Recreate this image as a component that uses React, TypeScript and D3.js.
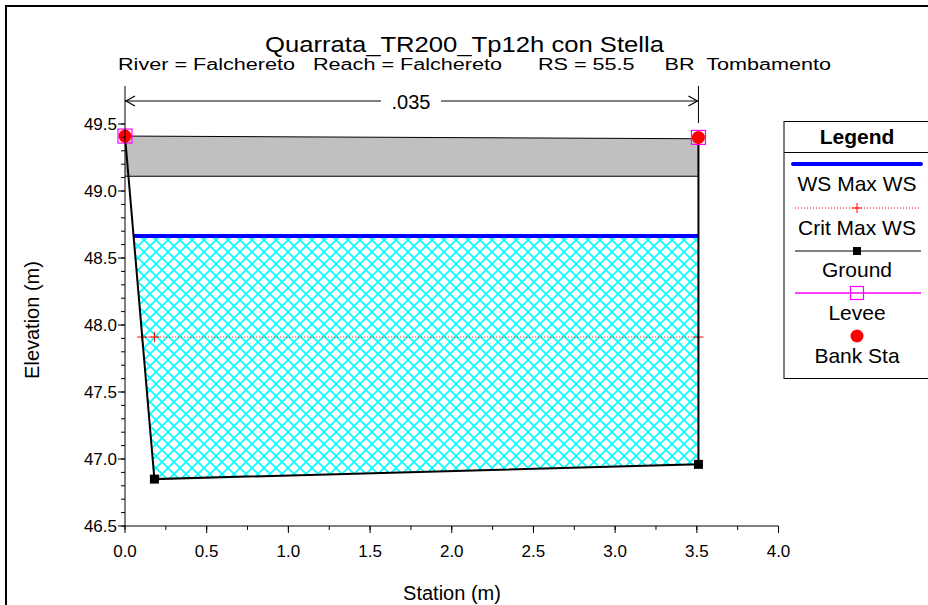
import React from "react";
import * as d3 from "d3";

const groundSta = [0, 0.18, 3.51, 3.51];
const groundElev = [49.41, 46.85, 46.96, 49.4];
const bankSta = [0, 3.51];
const bankElev = [49.41, 49.4];
const deckSta = [0, 3.51];
const deckHigh = [49.41, 49.39];
const deckLow = [49.11, 49.11];
const wsMax = 48.665;
const critMax = 47.91;
const critMarkSta = [0.105, 0.18, 3.51];
const xTicks = [0, 0.5, 1, 1.5, 2, 2.5, 3, 3.5, 4];
const yTicks = [46.5, 47, 47.5, 48, 48.5, 49, 49.5];
const nValue = ".035";
const titleText = "Quarrata_TR200_Tp12h con Stella";
const subtitleText = "River = Falchereto   Reach = Falchereto      RS = 55.5     BR  Tombamento";
const legendItems = ["WS Max WS", "Crit Max WS", "Ground", "Levee", "Bank Sta"];

const FONT = "Liberation Sans, Arial, sans-serif";

function intersect(level: number) {
  const pts: [number, number][] = [];
  for (let i = 0; i < groundSta.length - 1; i++) {
    const x1 = groundSta[i], y1 = groundElev[i], x2 = groundSta[i + 1], y2 = groundElev[i + 1];
    if (y1 <= level) pts.push([x1, y1]);
    if ((y1 - level) * (y2 - level) < 0) {
      const t = (level - y1) / (y2 - y1);
      pts.push([x1 + t * (x2 - x1), level]);
    }
  }
  const last = groundSta.length - 1;
  if (groundElev[last] <= level) pts.push([groundSta[last], groundElev[last]]);
  return pts;
}

export default function App() {
  const x = d3.scaleLinear().domain([0, 4]).range([125, 778.5]);
  const y = d3.scaleLinear().domain([46.5, 49.5]).range([526, 124]);
  const line = d3.line<[number, number]>().x((d) => x(d[0])).y((d) => y(d[1]));

  const wet = intersect(wsMax);
  const wsLeft = wet[0][0];
  const wsRight = deckSta[1];
  const waterPoly = [...wet, [wsRight, wsMax] as [number, number]];

  const critPts = intersect(critMax);
  const critLeft = critPts[0][0];

  const groundPts: [number, number][] = groundSta.map((s, i) => [s, groundElev[i]]);
  const deckPoly: [number, number][] = [
    [deckSta[0], deckHigh[0]],
    [deckSta[1], deckHigh[1]],
    [deckSta[1], deckLow[1]],
    [deckSta[0], deckLow[0]],
  ];

  const xMinor = d3.range(0, 4.001, 0.25);
  const yMinor = d3.range(46.5, 49.51, 0.1);

  const lx = 784;
  const lineX1 = 795, lineX2 = 921;
  const cx = 857;
  const P = 12;

  return (
    <svg width={928} height={605} style={{ position: "absolute", left: 0, top: 0, background: "#fff" }} fontFamily={FONT}>
      <defs>
        <pattern id="hatch" patternUnits="userSpaceOnUse" width={P} height={P}>
          <path d={`M-1,-1 L${P + 1},${P + 1} M-1,${P + 1} L${P + 1},-1`} stroke="#00ffff" strokeWidth={1.6} fill="none" />
        </pattern>
      </defs>
      <rect x={0} y={0} width={928} height={605} fill="#fff" />
      <rect x={6} y={6} width={940} height={620} fill="none" stroke="#000" strokeWidth={2} />

      <text x={265} y={52} fontSize={22} textLength={399} lengthAdjust="spacingAndGlyphs">{titleText}</text>
      <text x={118} y={70} fontSize={16} textLength={713} lengthAdjust="spacingAndGlyphs" style={{ whiteSpace: "pre" }}>{subtitleText}</text>

      <path d={line(waterPoly as [number, number][]) + "Z"} fill="url(#hatch)" />

      <path d={line(deckPoly) + "Z"} fill="#c0c0c0" stroke="none" />
      <path d={line([deckPoly[0], deckPoly[1]])!} stroke="#000" strokeWidth={1} fill="none" />
      <path d={line([deckPoly[3], deckPoly[2]])!} stroke="#000" strokeWidth={1} fill="none" />

      <line x1={x(critLeft)} x2={x(deckSta[1])} y1={y(critMax)} y2={y(critMax)} stroke="#ff0000" strokeWidth={1} strokeDasharray="1,2" />
      {critMarkSta.map((s, i) => (
        <g key={i} stroke="#ff0000" strokeWidth={1}>
          <line x1={x(s) - 5} x2={x(s) + 5} y1={y(critMax)} y2={y(critMax)} />
          <line x1={x(s)} x2={x(s)} y1={y(critMax) - 5} y2={y(critMax) + 5} />
        </g>
      ))}

      <line x1={x(wsLeft)} x2={x(wsRight)} y1={y(wsMax)} y2={y(wsMax)} stroke="#0000ff" strokeWidth={4} />

      <path d={line(groundPts)!} stroke="#000" strokeWidth={2} fill="none" />
      {groundPts.slice(1, 3).map((p, i) => (
        <rect key={i} x={x(p[0]) - 4.5} y={y(p[1]) - 4.5} width={9} height={9} fill="#000" />
      ))}

      {bankSta.map((s, i) => (
        <rect key={i} x={x(s) - 7} y={y(bankElev[i]) - 7} width={14} height={14} fill="none" stroke="#ff00ff" strokeWidth={1.2} />
      ))}
      {bankSta.map((s, i) => (
        <circle key={i} cx={x(s)} cy={y(bankElev[i])} r={6.5} fill="#ff0000" />
      ))}

      <line x1={x(0)} x2={x(0)} y1={86} y2={y(49.5)} stroke="#000" />
      <line x1={x(deckSta[1])} x2={x(deckSta[1])} y1={86} y2={123} stroke="#000" />
      <line x1={x(0)} x2={x(deckSta[1])} y1={101} y2={101} stroke="#000" />
      <path d={`M${x(0) + 10},96 L${x(0) + 1},101 L${x(0) + 10},106`} stroke="#000" fill="none" strokeWidth={1.2} />
      <path d={`M${x(deckSta[1]) - 10},96 L${x(deckSta[1]) - 1},101 L${x(deckSta[1]) - 10},106`} stroke="#000" fill="none" strokeWidth={1.2} />
      <rect x={381} y={92} width={60} height={18} fill="#fff" />
      <text x={411} y={109} textAnchor="middle" fontSize={20}>{nValue}</text>

      <line x1={x(0)} x2={x(0)} y1={y(46.5)} y2={y(49.5)} stroke="#000" />
      <line x1={x(0)} x2={x(4)} y1={y(46.5)} y2={y(46.5)} stroke="#000" />
      {yMinor.map((v, i) => (
        <line key={"ym" + i} x1={x(0) - 4} x2={x(0)} y1={y(v)} y2={y(v)} stroke="#000" />
      ))}
      {yTicks.map((v) => (
        <g key={"y" + v}>
          <line x1={x(0) - 7} x2={x(0)} y1={y(v)} y2={y(v)} stroke="#000" />
          <text x={x(0) - 8} y={y(v) + 6} textAnchor="end" fontSize={17}>{v.toFixed(1)}</text>
        </g>
      ))}
      {xMinor.map((v, i) => (
        <line key={"xm" + i} x1={x(v)} x2={x(v)} y1={y(46.5)} y2={y(46.5) + 4} stroke="#000" />
      ))}
      {xTicks.map((v) => (
        <g key={"x" + v}>
          <line x1={x(v)} x2={x(v)} y1={y(46.5)} y2={y(46.5) + 7} stroke="#000" />
          <text x={x(v)} y={557} textAnchor="middle" fontSize={17}>{v.toFixed(1)}</text>
        </g>
      ))}
      <text x={452} y={600} textAnchor="middle" fontSize={20}>Station (m)</text>
      <text transform="translate(39,320) rotate(-90)" textAnchor="middle" fontSize={20}>Elevation (m)</text>

      <rect x={lx} y={121.5} width={200} height={257} fill="#fff" stroke="#000" strokeWidth={1} />
      <text x={cx} y={144} textAnchor="middle" fontSize={21} fontWeight="bold">Legend</text>
      <line x1={lx} x2={940} y1={152.5} y2={152.5} stroke="#000" />
      <line x1={793} x2={921} y1={164} y2={164} stroke="#0000ff" strokeWidth={4} strokeLinecap="round" />
      <line x1={lineX1} x2={lineX2} y1={208} y2={208} stroke="#ff0000" strokeDasharray="1,2" />
      <line x1={cx - 5} x2={cx + 5} y1={208} y2={208} stroke="#ff0000" />
      <line x1={cx} x2={cx} y1={203} y2={213} stroke="#ff0000" />
      <line x1={lineX1} x2={lineX2} y1={251} y2={251} stroke="#000" />
      <rect x={cx - 4} y={247} width={8} height={8} fill="#000" />
      <line x1={lineX1} x2={lineX2} y1={293} y2={293} stroke="#ff00ff" strokeWidth={1.5} />
      <rect x={cx - 6.5} y={286.5} width={13} height={13} fill="none" stroke="#ff00ff" strokeWidth={1.2} />
      <circle cx={cx} cy={336} r={6.5} fill="#ff0000" />
      {legendItems.map((t, i) => (
        <text key={t} x={cx} y={[191, 235, 277, 320, 363][i]} textAnchor="middle" fontSize={21}>{t}</text>
      ))}
    </svg>
  );
}
